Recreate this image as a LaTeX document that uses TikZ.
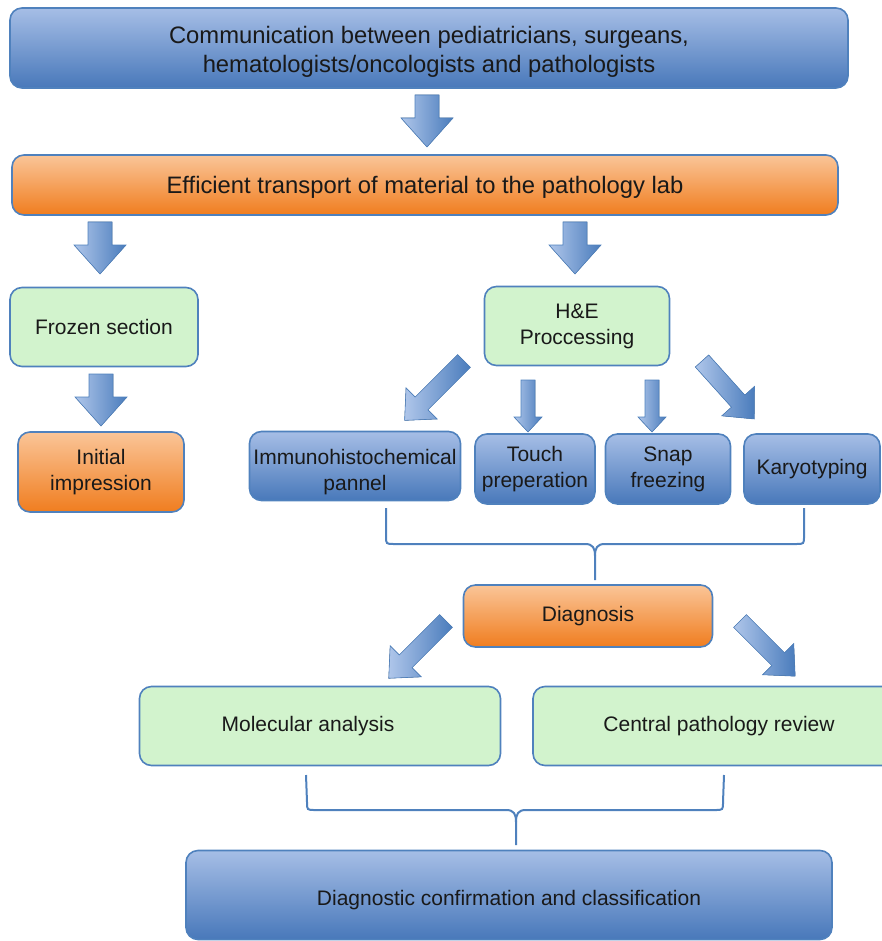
\documentclass[tikz,border=0pt]{standalone}
\usepackage{fontspec}
\setmainfont{Liberation Sans}
\definecolor{edgeblue}{HTML}{4F81BD}
\definecolor{blueL}{HTML}{A6BEE6}
\definecolor{blueD}{HTML}{4878BA}
\definecolor{orangeL}{HTML}{FAC598}
\definecolor{orangeD}{HTML}{F07D1F}
\definecolor{greenF}{HTML}{D2F3CD}
\definecolor{arrL}{HTML}{AFC6EA}
\definecolor{arrD}{HTML}{4A7CBC}
\newcommand{\lowertext}[2]{\raisebox{-#1}[\height][\depth]{#2}}
\tikzset{
  box/.style={draw=edgeblue, line width=1.6pt, rounded corners=12pt, align=center,
    inner sep=0pt, text=black!90, font=\fontsize{21}{26}\selectfont},
  bigtext/.style={font=\fontsize{23.8}{28}\selectfont},
  bluebox/.style={box, top color=blueL, bottom color=blueD},
  orangebox/.style={box, top color=orangeL, middle color=orangeD, bottom color=orangeD},
  greenbox/.style={box, fill=greenF},
  brace/.style={draw=edgeblue, line width=2pt},
  pics/blockarr/.style n args={4}{code={
    \filldraw[draw=edgeblue, line width=0.6pt, left color=arrL, right color=arrD]
      (-#2,0) -- (-#2,#1-#4) -- (-#3,#1-#4) -- (0,#1) -- (#3,#1-#4) -- (#2,#1-#4) -- (#2,0) -- cycle;
  }}
}
\begin{document}
\begin{tikzpicture}[x=1pt, y=-1pt]
\clip (0,0) rectangle (882,941);
% boxes
\node[bluebox, bigtext, minimum width=838, minimum height=80] (comm) at (429,48)
  {\lowertext{4pt}{\begin{tabular}{@{}c@{}}Communication between pediatricians, surgeans,\\[1pt]hematologists/oncologists and pathologists\end{tabular}}};
\node[orangebox, bigtext, minimum width=826, minimum height=60] (transport) at (425,185)
  {\lowertext{2pt}{Efficient transport of material to the pathology lab}};
\node[greenbox, minimum width=188, minimum height=79] (frozen) at (104,327) {Frozen section};
\node[greenbox, minimum width=185, minimum height=79] (he) at (577,326) {H\&E\\Proccessing};
\node[orangebox, minimum width=166, minimum height=80] (initial) at (101,472) {Initial\\impression};
\node[bluebox, minimum width=211, minimum height=69] (immuno) at (355,466)
  {\lowertext{6pt}{\begin{tabular}{@{}c@{}}Immunohistochemical\\pannel\end{tabular}}};
\node[bluebox, minimum width=120, minimum height=70] (touch) at (535,469) {Touch\\preperation};
\node[bluebox, minimum width=125, minimum height=70] (snap) at (668,469) {Snap\\freezing};
\node[bluebox, minimum width=136, minimum height=70] (karyo) at (812,469) {Karyotyping};
\node[orangebox, minimum width=249, minimum height=62] (diag) at (588,616) {Diagnosis};
\node[greenbox, minimum width=361, minimum height=79] (molec) at (320,726) {Molecular analysis\hspace*{24pt}};
\node[greenbox, minimum width=372, minimum height=79] (central) at (719,726) {Central pathology review};
\node[bluebox, minimum width=646, minimum height=89] (final) at (509,895)
  {\lowertext{5pt}{Diagnostic confirmation and classification}};
% arrows
\coordinate (a1) at (427,95);
\coordinate (a2) at (100,222);
\coordinate (a3) at (575,222);
\coordinate (a4) at (101,374);
\coordinate (a5) at (464,361);
\coordinate (a6) at (528,380);
\coordinate (a7) at (652,380);
\coordinate (a8) at (702,361);
\coordinate (a9) at (446,621);
\coordinate (a10) at (740,621);
\pic at (a1) {blockarr={52}{12}{26}{29}};
\pic at (a2) {blockarr={52}{12}{26}{29}};
\pic at (a3) {blockarr={52}{12}{26}{29}};
\pic at (a4) {blockarr={52}{12}{26}{29}};
\pic[rotate=-45] at (a5) {blockarr={84}{9}{22}{24}};
\pic at (a6) {blockarr={52}{7}{14}{15}};
\pic at (a7) {blockarr={52}{7}{14}{15}};
\pic[rotate=42] at (a8) {blockarr={78}{9}{22}{24}};
\pic[rotate=-45] at (a9) {blockarr={81}{9}{22}{24}};
\pic[rotate=45] at (a10) {blockarr={78}{9}{22}{24}};
% braces
\coordinate (b1l) at (386,508);
\coordinate (b1r) at (804,508);
\coordinate (b1m) at (595,580);
\draw[brace] (b1l) -- (386,536) .. controls (386,544) .. (394,544) -- (585,544)
  .. controls (593,544) and (595,548) .. (595,556) -- (b1m);
\draw[brace] (b1r) -- (804,536) .. controls (804,544) .. (796,544) -- (605,544)
  .. controls (597,544) and (595,548) .. (595,556);
\coordinate (b2l) at (306,775);
\coordinate (b2r) at (724,775);
\coordinate (b2m) at (516,845);
\draw[brace] (b2l) -- (307,802) .. controls (307,810) .. (315,810) -- (506,810)
  .. controls (514,810) and (516,814) .. (516,822) -- (b2m);
\draw[brace] (b2r) -- (723,802) .. controls (723,810) .. (715,810) -- (526,810)
  .. controls (518,810) and (516,814) .. (516,822);
\end{tikzpicture}
\end{document}
